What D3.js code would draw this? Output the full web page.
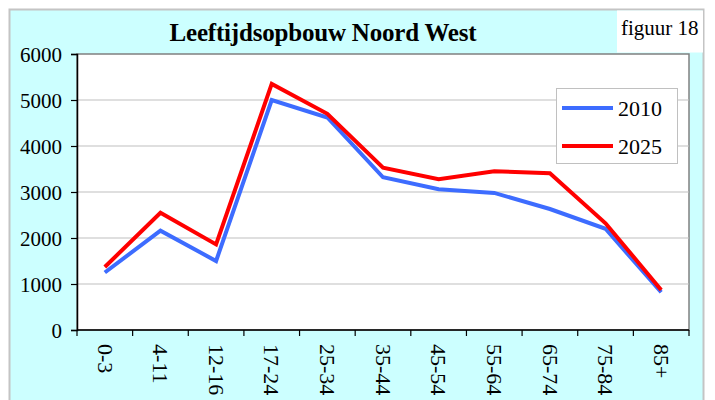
<!DOCTYPE html>
<html>
<head>
<meta charset="utf-8">
<script src="https://cdn.jsdelivr.net/npm/d3@7"></script>
<style>
  body { margin: 0; background: #fff; }
  svg text { font-family: "Liberation Serif", "Times New Roman", serif; fill: #000; }
</style>
</head>
<body>
<div id="chart"></div>
<script>
const categories = ['0-3', '4-11', '12-16', '17-24', '25-34', '35-44', '45-54', '55-64', '65-74', '75-84', '85+'];
const values2010 = [1250, 2160, 1500, 5000, 4620, 3320, 3060, 2980, 2630, 2200, 820];
const values2025 = [1370, 2550, 1860, 5350, 4700, 3530, 3280, 3450, 3410, 2320, 870];
const yTicks = [0, 1000, 2000, 3000, 4000, 5000, 6000];
const seriesNames = ['2010', '2025'];
const seriesColors = ['#3d6cff', '#ff0000'];

const w = 715, h = 400;
const plotLeft = 77, plotRight = 689, plotTop = 54, plotBottom = 330;
const serif = '"Liberation Serif", "Times New Roman", serif';

const svg = d3.select('#chart').append('svg')
    .attr('width', w)
    .attr('height', h);

// cyan panel
svg.append('rect')
    .attr('x', 9.5).attr('y', 9.5)
    .attr('width', 694).attr('height', 400)
    .attr('fill', '#ccffff')
    .attr('stroke', '#c4c4c4')
    .attr('stroke-width', 2);

// figuur label box
svg.append('rect')
    .attr('x', 617).attr('y', 10.5)
    .attr('width', 86).attr('height', 42)
    .attr('fill', '#fff');
svg.append('text')
    .attr('x', 621).attr('y', 35)
    .style('font-family', serif)
    .style('font-size', '21px')
    .text('figuur 18');

// title
svg.append('text')
    .attr('x', 323).attr('y', 41)
    .attr('text-anchor', 'middle')
    .style('font-family', serif)
    .style('font-size', '25px')
    .style('font-weight', 'bold')
    .style('letter-spacing', '-0.2px')
    .text('Leeftijdsopbouw Noord West');

const x = d3.scaleBand().domain(categories).range([plotLeft, plotRight]);
const y = d3.scaleLinear().domain([0, 6000]).range([plotBottom, plotTop]);
const cx = d => x(d) + x.bandwidth() / 2;

// plot area
svg.append('rect')
    .attr('x', plotLeft).attr('y', plotTop)
    .attr('width', plotRight - plotLeft).attr('height', plotBottom - plotTop)
    .attr('fill', '#fff')
    .attr('stroke', '#808080')
    .attr('stroke-width', 1.5);

// gridlines
svg.append('g')
    .selectAll('line')
    .data(yTicks.filter(t => t > 0 && t < 6000))
    .enter()
    .append('line')
    .attr('x1', plotLeft).attr('x2', plotRight)
    .attr('y1', d => y(d)).attr('y2', d => y(d))
    .attr('stroke', '#c0c0c0')
    .attr('stroke-width', 1.2);

// y axis
const yAxis = svg.append('g')
    .attr('transform', `translate(${plotLeft}, 0)`)
    .call(d3.axisLeft(y).tickValues(yTicks).tickFormat(d3.format('d')).tickSize(6).tickPadding(9));
yAxis.attr('font-family', serif);
yAxis.select('.domain').attr('stroke', '#000').attr('stroke-width', 1.5);
yAxis.selectAll('.tick line').attr('stroke', '#000').attr('stroke-width', 1.2);
yAxis.selectAll('text')
    .style('font-family', serif)
    .style('font-size', '21px')
    .attr('fill', '#000')
    .attr('dy', '0.34em');

// x axis: labels at band centres, ticks at band boundaries
const xAxis = svg.append('g')
    .attr('transform', `translate(0, ${plotBottom})`)
    .call(d3.axisBottom(x).tickSize(0).tickPadding(0));
xAxis.attr('font-family', serif);
xAxis.select('.domain').remove();
xAxis.selectAll('text')
    .style('font-family', serif)
    .style('font-size', '22px')
    .attr('fill', '#000')
    .attr('text-anchor', 'start')
    .attr('transform', 'rotate(90)')
    .attr('x', 14)
    .attr('y', 0)
    .attr('dy', '0.33em');

const edges = categories.map(c => x(c)).concat([x(categories[categories.length - 1]) + x.bandwidth()]);
svg.append('g')
    .selectAll('line')
    .data(edges)
    .enter()
    .append('line')
    .attr('x1', d => d).attr('x2', d => d)
    .attr('y1', plotBottom).attr('y2', plotBottom + 6)
    .attr('stroke', '#000')
    .attr('stroke-width', 1.2);
svg.append('line')
    .attr('x1', plotLeft).attr('x2', plotRight)
    .attr('y1', plotBottom).attr('y2', plotBottom)
    .attr('stroke', '#000')
    .attr('stroke-width', 1.5);

// lines
const line = d3.line()
    .x((d, i) => cx(categories[i]))
    .y(d => y(d));

[values2010, values2025].forEach((vals, i) => {
    svg.append('path')
        .datum(vals)
        .attr('d', line)
        .attr('fill', 'none')
        .attr('stroke', seriesColors[i])
        .attr('stroke-width', 4)
        .attr('stroke-linejoin', 'miter');
});

// legend
const legend = svg.append('g');
legend.append('rect')
    .attr('x', 556.5).attr('y', 88.5)
    .attr('width', 121).attr('height', 75)
    .attr('fill', '#fff')
    .attr('stroke', '#c0c0c0');
seriesNames.forEach((name, i) => {
    const ly = 108 + i * 38;
    legend.append('line')
        .attr('x1', 562).attr('x2', 613)
        .attr('y1', ly).attr('y2', ly)
        .attr('stroke', seriesColors[i])
        .attr('stroke-width', 4);
    legend.append('text')
        .attr('x', 618).attr('y', ly + 7.5)
        .style('font-family', serif)
        .style('font-size', '22px')
        .text(name);
});
</script>
</body>
</html>
